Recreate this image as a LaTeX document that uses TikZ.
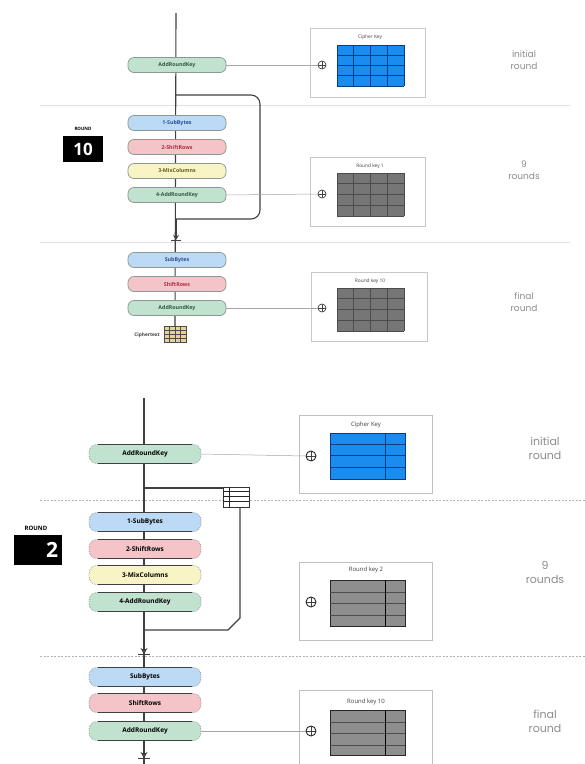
\documentclass[tikz,border=0pt]{standalone}
\usepackage{fontspec}
\setmainfont{Open Sans}
\newfontfamily\labelfont{Poppins}
\usetikzlibrary{arrows.meta}
\definecolor{pblue}{HTML}{BCDAF5}
\definecolor{ppink}{HTML}{F4C4C8}
\definecolor{pyellow}{HTML}{F8F4C6}
\definecolor{pgreen}{HTML}{C2E2D0}
\definecolor{tblue}{HTML}{2A4D8F}
\definecolor{tred}{HTML}{A83040}
\definecolor{tolive}{HTML}{5E5E1E}
\definecolor{tgreen}{HTML}{2C5A42}
\definecolor{pborder}{HTML}{8A9890}
\definecolor{keyblue}{HTML}{1A8CF0}
\definecolor{keyline}{HTML}{0B3C80}
\definecolor{keygray}{HTML}{767676}
\definecolor{keygraylt}{HTML}{8E8E8E}
\definecolor{divider}{HTML}{E2E2E2}
\definecolor{labelgray}{HTML}{8C8C8C}
\definecolor{cipheryel}{HTML}{E6D68A}
\tikzset{
  pill/.style={draw=pborder, line width=0.7pt, rounded corners=6pt, minimum width=98pt,
    minimum height=15pt, inner sep=0pt, font=\fontsize{5.3}{6}\selectfont},
  bigpill/.style={draw=pborder, line width=0.7pt, densely dotted, rounded corners=8pt,
    minimum width=112pt, minimum height=19pt, inner sep=0pt, font=\fontsize{6.5}{8}\selectfont},
  pilledge/.style={draw=black!75, line width=0.8pt},
  mainline/.style={draw=black!75, line width=1.1pt},
  keybox/.style={draw=black!22, line width=0.6pt, minimum width=115pt, minimum height=69pt, inner sep=0pt},
  keylink/.style={draw=black!35, line width=0.5pt},
  xorsym/.style={circle, draw=black!75, line width=0.7pt, fill=white, minimum size=8pt, inner sep=0pt,
    path picture={\draw[black!75, line width=0.7pt]
      (path picture bounding box.north) -- (path picture bounding box.south)
      (path picture bounding box.west) -- (path picture bounding box.east);}},
  bigxorsym/.style={xorsym, minimum size=10pt, line width=0.9pt, draw=black!85},
  keytitle/.style={inner sep=0pt, font=\fontsize{4.8}{5}\selectfont, text=black!75},
  bigkeytitle/.style={inner sep=0pt, font=\fontsize{6}{7}\selectfont, text=black!75},
  sidelabel/.style={align=center, text=labelgray, font=\labelfont\fontsize{9}{12}\selectfont},
  bigsidelabel/.style={align=center, text=labelgray, font=\labelfont\fontsize{11}{14}\selectfont},
  dividertop/.style={draw=divider, line width=1pt},
  dividerbot/.style={draw=black!30, line width=0.7pt, dash pattern=on 2pt off 1.5pt},
  roundbox/.style={fill=black, text=white, inner sep=0pt, font=\bfseries},
  roundword/.style={inner sep=0pt, font=\bfseries\fontsize{4.5}{5}\selectfont},
}
\begin{document}
\begin{tikzpicture}[x=1pt,y=-1pt]
\useasboundingbox (0,0) rectangle (585,764);
\fill[white] (0,0) rectangle (585,764);

%================ TOP FRAME ================
\coordinate (dA1) at (40,105); \coordinate (dA2) at (570,105);
\coordinate (dB1) at (40,242); \coordinate (dB2) at (570,242);
\draw[dividertop] (dA1) -- (dA2);
\draw[dividertop] (dB1) -- (dB2);

\coordinate (tTop) at (176,13);
\coordinate (tL1) at (176,95);
\coordinate (tL2) at (260,95);
\coordinate (tL3) at (260,219);
\coordinate (tL4) at (176,219);
\coordinate (tArr) at (176,240);
\draw[mainline, rounded corners=9pt] (tL1) -- (tL2) -- (tL3) -- (tL4);

% ciphertext icon
\node[draw=black!70, fill=cipheryel, minimum width=22pt, minimum height=16pt, inner sep=0pt] (tct) at (175,334) {};
\foreach \i in {1,2,3}{
  \draw[black!70, line width=0.4pt] ([xshift=\i*5.5pt]tct.north west) -- ([xshift=\i*5.5pt]tct.south west);
  \draw[black!70, line width=0.4pt] ([yshift=-\i*4pt]tct.north west) -- ([yshift=-\i*4pt]tct.north east);
}
\node[anchor=east, inner sep=0pt, font=\bfseries\fontsize{4.8}{5}\selectfont, text=black!75] (tcttext) at (160,335) {Ciphertext};

\draw[mainline] (tTop) -- (tct.north);
\draw[mainline, -{Stealth[length=5pt,width=6pt]}] (tL4) -- (tArr);
\draw[black!75, line width=0.9pt] ([xshift=-5pt]tArr) -- ([xshift=5pt]tArr);

% pills
\node[pill, fill=pgreen, text=tgreen] (tark0) at (177,65) {\bfseries AddRoundKey};
\node[pill, fill=pblue, text=tblue] (tsb) at (177,123) {\bfseries 1-SubBytes};
\node[pill, fill=ppink, text=tred] (tsr) at (177,147) {\bfseries 2-ShiftRows};
\node[pill, fill=pyellow, text=tolive] (tmc) at (177,171) {\bfseries 3-MixColumns};
\node[pill, fill=pgreen, text=tgreen] (tark) at (177,195) {\bfseries 4-AddRoundKey};
\node[pill, fill=pblue, text=tblue] (tfsb) at (177,260) {\bfseries SubBytes};
\node[pill, fill=ppink, text=tred] (tfsr) at (177,284) {\bfseries ShiftRows};
\node[pill, fill=pgreen, text=tgreen] (tfark) at (177,308) {\bfseries AddRoundKey};

% ROUND 10
\node[roundword] (tround) at (83,129) {ROUND};
\node[roundbox, minimum width=40pt, minimum height=26pt, font=\bfseries\fontsize{17}{17}\selectfont] (tr10) at (83,149) {10};

% key boxes
\node[keybox] (tkb1) at (368,62.5) {};
\node[keybox] (tkb2) at (368,192) {};
\node[keybox, minimum width=116pt] (tkb3) at (369,307) {};
\node[keytitle] (tkt1) at (370,37) {Cipher Key};
\node[keytitle] (tkt2) at (370,166) {Round key 1};
\node[keytitle] (tkt3) at (370,281) {Round key 10};
\node[xorsym] (tx1) at (322,65) {};
\node[xorsym] (tx2) at (322,194) {};
\node[xorsym] (tx3) at (322,308) {};
\draw[keylink] (tark0.east) -- (tx1.west);
\draw[keylink] (tark.east) -- (tx2.west);
\draw[keylink] (tfark.east) -- (tx3.west);

% grids
\fill[keyblue] (337,45) rectangle (404,86);
\foreach \i in {0,...,4}{
  \draw[keyline, line width=0.6pt] (337+\i*16.75,45) -- (337+\i*16.75,86);
  \draw[keyline, line width=0.6pt] (337,45+\i*10.25) -- (404,45+\i*10.25);
}
\foreach \y in {173,288}{
  \fill[keygray] (337,\y) rectangle (404,\y+43);
  \foreach \i in {0,...,4}{
    \draw[black!70, line width=0.6pt] (337+\i*16.75,\y) -- (337+\i*16.75,\y+43);
    \draw[black!70, line width=0.6pt] (337,\y+\i*10.75) -- (404,\y+\i*10.75);
  }
}

\node[sidelabel] (tlab1) at (524,60) {initial\\round};
\node[sidelabel] (tlab2) at (524,170) {9\\rounds};
\node[sidelabel] (tlab3) at (524,302) {final\\round};

%================ BOTTOM FRAME ================
\coordinate (dC1) at (40,500); \coordinate (dC2) at (585,500);
\coordinate (dD1) at (40,656); \coordinate (dD2) at (585,656);
\draw[dividerbot] (dC1) -- (dC2);
\draw[dividerbot] (dD1) -- (dD2);

\coordinate (bTop) at (144,398);
\coordinate (bBot) at (144,764);
\coordinate (bL1) at (144,488);
\coordinate (bL2) at (223,488);
\coordinate (bL3) at (240,618);
\coordinate (bL4) at (228,630);
\coordinate (bL5) at (144,630);
\coordinate (bArr1) at (144,654);
\coordinate (bArr2) at (144,758);
\draw[mainline] (bTop) -- (bBot);
\draw[mainline, -{Stealth[length=6pt,width=7pt]}] (bL5) -- (bArr1);
\draw[black!75, line width=0.9pt] ([xshift=-6pt]bArr1) -- ([xshift=6pt]bArr1);
\draw[mainline, -{Stealth[length=6pt,width=7pt]}] (144,740) -- (bArr2);
\draw[black!75, line width=0.9pt] ([xshift=-6pt]bArr2) -- ([xshift=6pt]bArr2);

% loop grid icon
\node[draw=black!80, fill=white, minimum width=26pt, minimum height=20pt, inner sep=0pt, line width=0.6pt] (bicon) at (236,497) {};
\foreach \i in {1,2,3}{
  \draw[black!85, line width=0.9pt] ([yshift=-\i*5pt]bicon.north west) -- ([yshift=-\i*5pt]bicon.north east);
}
\draw[black!85, line width=0.6pt] ([xshift=7pt]bicon.north west) -- ([xshift=7pt]bicon.south west);
\draw[mainline] (bL1) -- (bL2);
\draw[mainline] (bicon.south -| bL3) -- (bL3) -- (bL4) -- (bL5);

% pills
\node[bigpill, fill=pgreen] (bark0) at (145,454) {\bfseries AddRoundKey};
\node[bigpill, fill=pblue] (bsb) at (145,522) {\bfseries 1-SubBytes};
\node[bigpill, fill=ppink] (bsr) at (145,549) {\bfseries 2-ShiftRows};
\node[bigpill, fill=pyellow] (bmc) at (145,575) {\bfseries 3-MixColumns};
\node[bigpill, fill=pgreen] (bark) at (145,602) {\bfseries 4-AddRoundKey};
\node[bigpill, fill=pblue] (bfsb) at (145,677) {\bfseries SubBytes};
\node[bigpill, fill=ppink] (bfsr) at (145,703) {\bfseries ShiftRows};
\node[bigpill, fill=pgreen] (bfark) at (145,731) {\bfseries AddRoundKey};
\foreach \p in {bark0,bsb,bsr,bmc,bark,bfsb,bfsr,bfark}{
  \draw[pilledge] ([xshift=9pt]\p.north west) -- ([xshift=-9pt]\p.north east);
  \draw[pilledge] ([xshift=9pt]\p.south west) -- ([xshift=-9pt]\p.south east);
}

% ROUND 2
\node[roundword, font=\bfseries\fontsize{6}{6}\selectfont] (bround) at (36,528) {ROUND};
\node[roundbox, minimum width=48pt, minimum height=30pt, font=\bfseries\fontsize{21}{21}\selectfont, text width=40pt, align=right] (br2) at (38,550) {2};

% key boxes
\coordinate (bk1a) at (299,415); \coordinate (bk1b) at (432,493);
\coordinate (bk2a) at (299,562); \coordinate (bk2b) at (432,640);
\coordinate (bk3a) at (299,690); \coordinate (bk3b) at (432,770);
\draw[black!25, line width=0.6pt] (bk1a) rectangle (bk1b);
\draw[black!25, line width=0.6pt] (bk2a) rectangle (bk2b);
\draw[black!25, line width=0.6pt] (bk3a) rectangle (bk3b);
\node[bigkeytitle] (bkt1) at (366,425) {Cipher Key};
\node[bigkeytitle] (bkt2) at (366,570) {Round key 2};
\node[bigkeytitle] (bkt3) at (366,702) {Round key 10};
\node[bigxorsym] (bx1) at (311,456) {};
\node[bigxorsym] (bx2) at (311,602) {};
\node[bigxorsym] (bx3) at (311,731) {};
\draw[keylink] (bark0.east) -- (bx1.west);
\draw[keylink] (bfark.east) -- (bx3.west);

\fill[keyblue] (330,433) rectangle (405,479);
\draw[keyline, line width=0.9pt] (330,433) rectangle (405,479);
\foreach \y in {444,455.5,467}{\draw[keyline, line width=0.6pt] (330,\y) -- (405,\y);}
\draw[keyline, line width=1pt] (385,433) -- (385,479);

\fill[keygraylt] (330,580) rectangle (405,626);
\draw[black!85, line width=0.9pt] (330,580) rectangle (405,626);
\foreach \y in {592,603,615}{\draw[black!70, line width=0.6pt] (330,\y) -- (405,\y);}
\draw[black, line width=1pt] (385,580) -- (385,626);

\fill[keygraylt] (330,710) rectangle (405,755);
\draw[black!85, line width=0.9pt] (330,710) rectangle (405,755);
\foreach \y in {722,733,745}{\draw[black!70, line width=0.6pt] (330,\y) -- (405,\y);}
\draw[black, line width=1pt] (385,710) -- (385,755);

\node[bigsidelabel] (blab1) at (545,448) {initial\\round};
\node[bigsidelabel] (blab2) at (545,572) {9\\rounds};
\node[bigsidelabel] (blab3) at (545,721) {final\\round};
\end{tikzpicture}
\end{document}
